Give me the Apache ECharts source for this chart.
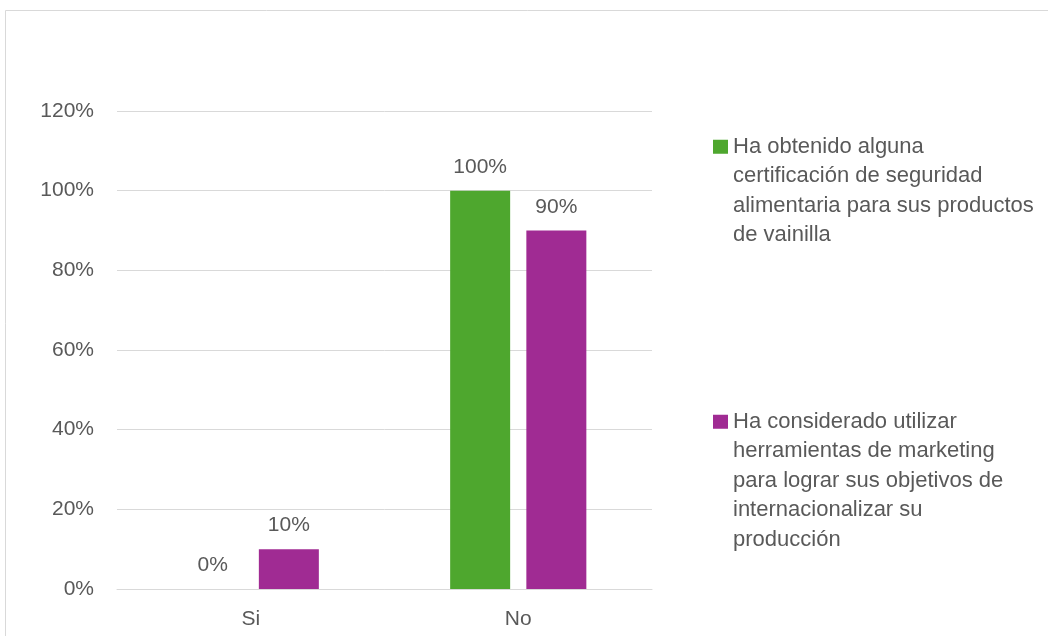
<!DOCTYPE html>
<html>
<head>
<meta charset="utf-8">
<script src="https://cdn.jsdelivr.net/npm/echarts@6/dist/echarts.min.js"></script>
<style>html,body{margin:0;padding:0;background:#fff}#c{width:1048px;height:636px}</style>
</head>
<body>
<div id="c"></div>
<script>
const categories = ['Si', 'No'];
const seriesNames = [
  'Ha obtenido alguna certificación de seguridad alimentaria para sus productos de vainilla',
  'Ha considerado utilizar herramientas de marketing para lograr sus objetivos de internacionalizar su producción'
];
const legendLines = [
  ['Ha obtenido alguna', 'certificación de seguridad', 'alimentaria para sus productos', 'de vainilla'],
  ['Ha considerado utilizar', 'herramientas de marketing', 'para lograr sus objetivos de', 'internacionalizar su', 'producción']
];
const certificacion = [0, 100];
const marketing = [10, 90];
const colors = ['#4EA72E', '#A02B93'];

const FONT = '"Liberation Sans", Arial, sans-serif';
const TXT = '#595959';
const FS = 21;
const LFS = 22;
const LH = 29.5;

function legendFor(i, top) {
  const n = legendLines[i].length;
  const h = 14 + (n - 1) * LH;
  return {
    left: 708,
    top: top,
    itemWidth: 15,
    itemHeight: h,
    selectedMode: false,
    data: [{
      name: seriesNames[i],
      icon: 'path://M0,0h15v14h-15z M0,' + h + 'h0.01v0.01h-0.01z'
    }],
    formatter: () => legendLines[i].join('\n'),
    textStyle: {color: TXT, fontSize: LFS, fontFamily: FONT, lineHeight: LH}
  };
}

const chart = echarts.init(document.getElementById('c'));
chart.setOption({
  animation: false,
  backgroundColor: '#fff',
  graphic: [{
    type: 'rect',
    shape: {x: 5.5, y: 10.5, width: 1100, height: 700},
    style: {fill: 'none', stroke: '#d9d9d9', lineWidth: 1},
    silent: true
  }],
  grid: {left: 117, right: 396, top: 111, bottom: 47, containLabel: false},
  legend: [legendFor(0, 127), legendFor(1, 402)],
  xAxis: {
    type: 'category',
    data: categories,
    axisLine: {lineStyle: {color: '#d9d9d9', width: 1}},
    axisTick: {show: false},
    axisLabel: {color: TXT, fontSize: FS, fontFamily: FONT, margin: 20}
  },
  yAxis: {
    type: 'value',
    min: 0, max: 120, interval: 20,
    axisLine: {show: false},
    axisTick: {show: false},
    splitLine: {lineStyle: {color: '#d9d9d9', width: 1}},
    axisLabel: {formatter: '{value}%', color: TXT, fontSize: FS, fontFamily: FONT, margin: 23}
  },
  series: [
    {
      name: seriesNames[0], type: 'bar', data: certificacion,
      barWidth: 60, barGap: '27%',
      itemStyle: {color: colors[0]},
      label: {show: true, position: 'top', distance: 13, formatter: '{c}%', color: TXT, fontSize: FS, fontFamily: FONT}
    },
    {
      name: seriesNames[1], type: 'bar', data: marketing,
      barWidth: 60, barGap: '27%',
      itemStyle: {color: colors[1]},
      label: {show: true, position: 'top', distance: 13, formatter: '{c}%', color: TXT, fontSize: FS, fontFamily: FONT}
    }
  ]
});
</script>
</body>
</html>
